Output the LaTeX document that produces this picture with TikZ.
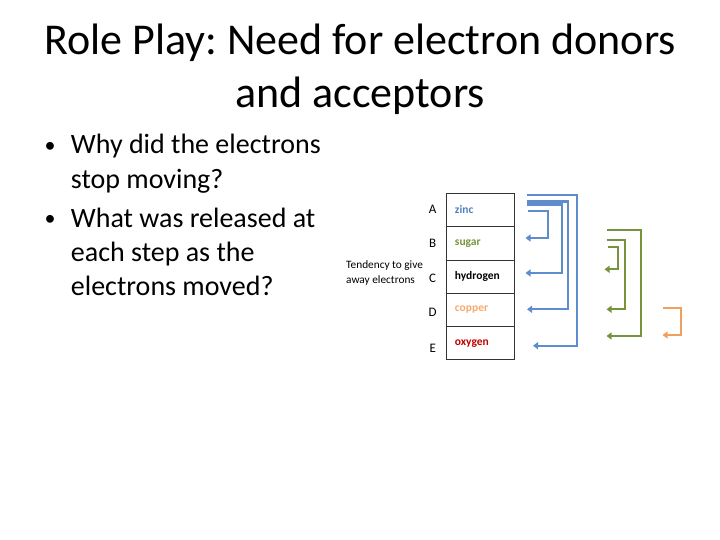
\documentclass[tikz,border=0pt]{standalone}
\usepackage{fontspec}
\setmainfont{Carlito}
\frenchspacing
\usetikzlibrary{arrows.meta}
\definecolor{eblue}{RGB}{95,140,205}
\definecolor{egreen}{RGB}{119,147,60}
\definecolor{eorange}{RGB}{240,160,92}
\definecolor{tblue}{RGB}{79,129,189}
\definecolor{tcopper}{RGB}{245,170,110}
\definecolor{tred}{RGB}{192,0,0}
\tikzset{
  titletext/.style={font=\fontsize{44}{52}\selectfont, inner sep=0pt, anchor=base},
  bullettext/.style={font=\fontsize{28}{34}\selectfont, inner sep=0pt, anchor=base west},
  bulletdot/.style={font=\fontsize{22}{26}\selectfont, inner sep=0pt},
  cell/.style={draw=black!80, line width=0.9pt, minimum height=33.3pt, text width=50.7pt, inner xsep=8.3pt, inner ysep=0pt, align=left, font=\fontsize{11.5}{13}\selectfont\bfseries},
  letter/.style={font=\fontsize{13}{15}\selectfont, inner sep=0pt},
  smalltext/.style={font=\fontsize{11.3}{13}\selectfont, inner sep=0pt, anchor=base west},
  tip/.style={-{Triangle[length=5pt,width=7pt]}},
  bluearr/.style={tip, draw=eblue, line width=2.3pt},
  greenarr/.style={tip, draw=egreen, line width=1.7pt},
  orangearr/.style={tip, draw=eorange, line width=1.7pt}
}
\begin{document}
\begin{tikzpicture}[x=1pt,y=-1pt]
\useasboundingbox (0,0) rectangle (720,540);
% title
\node[titletext] (t1) at (360,54.3) {Role Play: Need for electron donors};
\node[titletext] (t2) at (360,108) {and acceptors};
% bullets
\node[bulletdot] (b1) at (50,147) {•};
\node[bullettext] (l1) at (70.7,154) {Why did the electrons};
\node[bullettext] (l2) at (70.7,188.3) {stop moving?};
\node[bulletdot] (b2) at (50,220.5) {•};
\node[bullettext] (l3) at (70.7,227.3) {What was released at};
\node[bullettext] (l4) at (70.7,261.7) {each step as the};
\node[bullettext] (l5) at (70.7,295.7) {electrons moved?};
% table
\node[cell, text=tblue] (cA) at (480.3,210) {zinc};
\node[cell, text=egreen] (cB) at (480.3,243.3) {sugar};
\node[cell, text=black] (cC) at (480.3,276.6) {hydrogen};
\node[cell, text=tcopper] (cD) at (480.3,309.9) {copper};
\node[cell, text=tred] (cE) at (480.3,343.2) {oxygen};
% letters
\node[letter] (lA) at (432.7,209) {A};
\node[letter] (lB) at (432.7,243.5) {B};
\node[letter] (lC) at (432.7,278) {C};
\node[letter] (lD) at (432.7,312.7) {D};
\node[letter] (lE) at (432.7,348) {E};
% side label
\node[smalltext] (tend1) at (346,268.3) {Tendency to give};
\node[smalltext] (tend2) at (346,283.3) {away electrons};
% blue connector endpoints
\coordinate (z1) at (526.7,194.7);
\coordinate (z2) at (526.7,201.5);
\coordinate (z3) at (526.7,204.5);
\coordinate (z4) at (528,211.3);
\coordinate (e1) at (533,345.7);
\coordinate (d1) at (527,309.3);
\coordinate (c1) at (525.5,273);
\coordinate (bb1) at (525.5,238);
\draw[bluearr] (z1) -- ++(50,0) |- (e1);
\draw[bluearr] (z2) -- ++(41.6,0) |- (d1);
\draw[bluearr] (z3) -- ++(35,0) |- (c1);
\draw[bluearr] (z4) -- ++(20.3,0) |- (bb1);
% green connectors
\coordinate (s1) at (606.7,230);
\coordinate (s2) at (606.7,240);
\coordinate (s3) at (608.3,246.7);
\coordinate (ge) at (606.5,336);
\coordinate (gd) at (606.5,309.3);
\coordinate (gc) at (604.5,269.3);
\draw[greenarr] (s1) -- ++(34.3,0) |- (ge);
\draw[greenarr] (s2) -- ++(18.3,0) |- (gd);
\draw[greenarr] (s3) -- ++(10,0) |- (gc);
% orange connector
\coordinate (o1) at (663.3,308.3);
\coordinate (oe) at (662.5,335);
\draw[orangearr] (o1) -- ++(17.7,0) |- (oe);
\end{tikzpicture}
\end{document}
